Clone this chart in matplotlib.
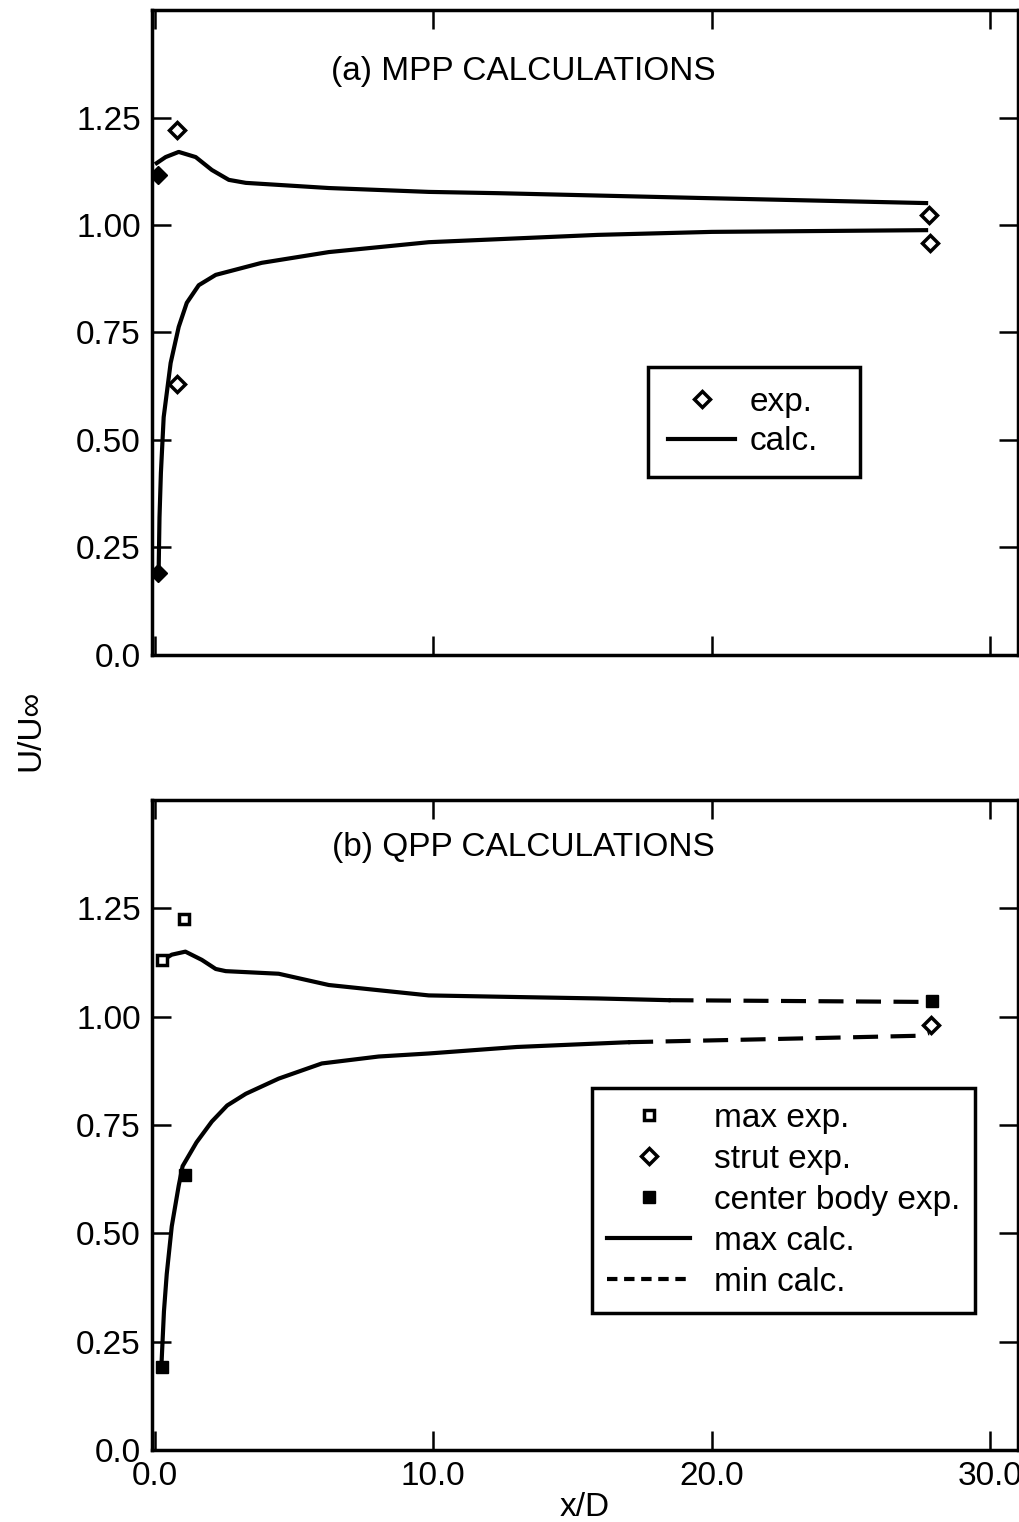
import matplotlib.pyplot as plt
from matplotlib.lines import Line2D

plt.rcParams['font.family'] = ['Liberation Sans', 'DejaVu Sans']
plt.rcParams['font.size'] = 24

# (a) MPP calculations
a_exp_x = [0.8, 0.8, 27.8, 27.85]
a_exp_y = [1.221, 0.630, 1.023, 0.958]
a_exp_fill_x = [0.1, 0.1]
a_exp_fill_y = [1.116, 0.190]
a_upper_x = [0.07, 0.39, 0.86, 1.47, 2.05, 2.66, 3.27, 6.25, 9.84, 12.35, 19.5, 27.7]
a_upper_y = [1.144, 1.158, 1.170, 1.158, 1.128, 1.105, 1.098, 1.086, 1.077, 1.074, 1.063, 1.051]
a_lower_x = [0.14, 0.17, 0.22, 0.32, 0.57, 0.86, 1.15, 1.58, 2.19, 3.84, 6.25, 9.84, 15.9, 20.0, 27.7]
a_lower_y = [0.198, 0.320, 0.423, 0.553, 0.679, 0.763, 0.819, 0.860, 0.884, 0.912, 0.937, 0.960, 0.977, 0.984, 0.988]

# (b) QPP calculations
b_max_exp_x = [0.25, 1.04]
b_max_exp_y = [1.131, 1.225]
b_strut_x = [27.86]
b_strut_y = [0.981]
b_center_x = [0.25, 1.1, 27.9]
b_center_y = [0.192, 0.634, 1.036]
b_upper_x = [0.3, 0.61, 1.1, 1.69, 2.19, 2.55, 4.45, 5.28, 6.25, 8.04, 9.84, 12.35, 15.9, 18.45]
b_upper_y = [1.131, 1.143, 1.150, 1.131, 1.110, 1.105, 1.099, 1.087, 1.073, 1.061, 1.049, 1.046, 1.042, 1.038]
b_upper_ext_x = [18.45, 23.0, 27.6]
b_upper_ext_y = [1.038, 1.036, 1.034]
b_lower_x = [0.25, 0.33, 0.43, 0.61, 0.86, 1.0, 1.5, 2.05, 2.6, 3.27, 4.45, 6.0, 8.04, 9.84, 13.0, 17.0]
b_lower_y = [0.210, 0.320, 0.406, 0.516, 0.610, 0.655, 0.710, 0.758, 0.795, 0.822, 0.857, 0.892, 0.908, 0.915, 0.930, 0.941]
b_lower_ext_x = [17.0, 22.0, 27.5, 27.8]
b_lower_ext_y = [0.941, 0.948, 0.956, 0.962]

y_ticks = [0.0, 0.25, 0.5, 0.75, 1.0, 1.25]
y_ticklabels = ['0.0', '0.25', '0.50', '0.75', '1.00', '1.25']
x_ticks = [0, 10, 20, 30]
x_ticklabels = ['0.0', '10.0', '20.0', '30.0']

LW = 3.0
fig = plt.figure(figsize=(10.2, 15.22), dpi=100)
ax_a = fig.add_axes([0.149, 0.5697, 0.849, 0.4237])
ax_b = fig.add_axes([0.149, 0.0473, 0.849, 0.4271])


def style_axes(ax):
    ax.set_xlim(-0.1, 31.0)
    ax.set_ylim(0, 1.5)
    ax.set_yticks(y_ticks)
    ax.set_yticklabels(y_ticklabels)
    ax.set_xticks(x_ticks)
    ax.tick_params(direction='in', length=14, width=1.8, top=True, right=True,
                   labelsize=24, pad=8)
    for s in ax.spines.values():
        s.set_linewidth(2.5)


style_axes(ax_a)
ax_a.set_xticklabels([])
ax_a.plot(a_upper_x, a_upper_y, color='black', lw=LW)
calc_line, = ax_a.plot(a_lower_x, a_lower_y, color='black', lw=LW)
exp_pts, = ax_a.plot(a_exp_x, a_exp_y, 'D', ms=8, mfc='white', mec='black', mew=2.5, ls='none')
ax_a.plot(a_exp_fill_x, a_exp_fill_y, 'D', ms=9, color='black', ls='none')
ax_a.text(13.25, 1.356, '(a) MPP CALCULATIONS', ha='center', va='center', fontsize=24)
leg_a = ax_a.legend([exp_pts, calc_line], ['exp.', 'calc.'], loc='upper left',
                    bbox_to_anchor=(0.573, 0.3465, 0.245, 0.1), mode='expand',
                    handlelength=2.0, handletextpad=0.45, labelspacing=0.25,
                    borderpad=0.6, borderaxespad=0, fancybox=False, framealpha=1,
                    edgecolor='black', fontsize=24)
leg_a.get_frame().set_linewidth(2.5)

style_axes(ax_b)
ax_b.set_xticklabels(x_ticklabels)
ax_b.plot(b_upper_x, b_upper_y, color='black', lw=LW)
ax_b.plot(b_upper_ext_x, b_upper_ext_y, color='black', lw=LW, dashes=(6, 3))
ax_b.plot(b_lower_x, b_lower_y, color='black', lw=LW)
ax_b.plot(b_lower_ext_x, b_lower_ext_y, color='black', lw=LW, dashes=(6, 3))
max_pts, = ax_b.plot(b_max_exp_x, b_max_exp_y, 's', ms=7, mfc='white', mec='black', mew=2.5, ls='none')
strut_pts, = ax_b.plot(b_strut_x, b_strut_y, 'D', ms=8, mfc='white', mec='black', mew=2.5, ls='none')
center_pts, = ax_b.plot(b_center_x, b_center_y, 's', ms=9, color='black', ls='none')
ax_b.text(13.25, 1.39, '(b) QPP CALCULATIONS', ha='center', va='center', fontsize=24)

max_calc = Line2D([], [], color='black', lw=LW)
min_calc = Line2D([], [], color='black', lw=LW, dashes=(2.5, 1.6))
leg_b = ax_b.legend([max_pts, strut_pts, center_pts, max_calc, min_calc],
                    ['max exp.', 'strut exp.', 'center body exp.', 'max calc.', 'min calc.'],
                    loc='upper left', bbox_to_anchor=(0.508, 0.557),
                    handlelength=2.5, handletextpad=0.7, labelspacing=0.3,
                    borderpad=0.45, borderaxespad=0, fancybox=False, framealpha=1,
                    edgecolor='black', fontsize=24)
leg_b.get_frame().set_linewidth(2.5)

ax_b.set_xlabel('x/D', fontsize=24, labelpad=0)
fig.text(0.03, 0.52, 'U/U\u221e', rotation=90, ha='center', va='center', fontsize=24)

fig.savefig('out.png', dpi=100)
